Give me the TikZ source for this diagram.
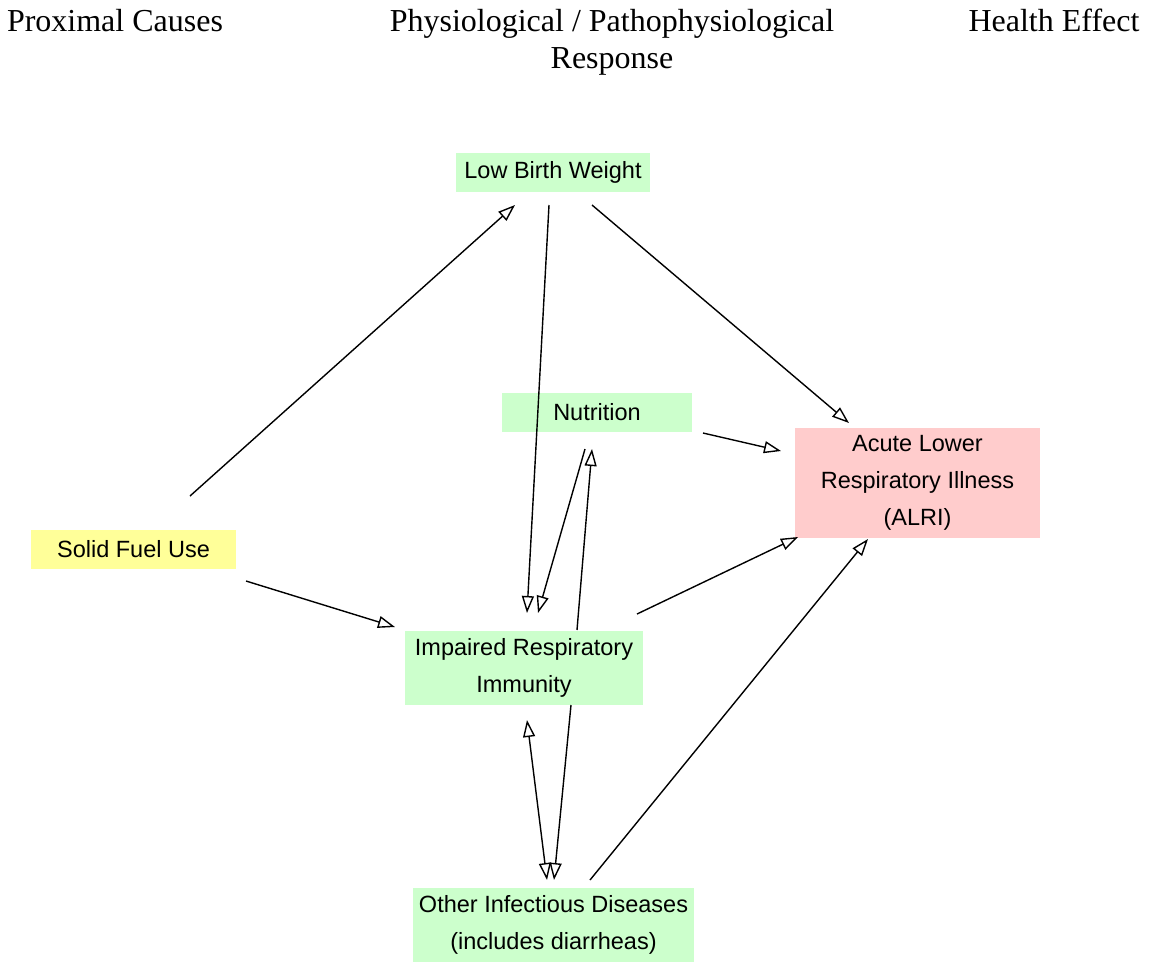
\documentclass[tikz,border=0pt]{standalone}
\usepackage{fontspec}
\setmainfont{Liberation Serif}
\setsansfont{Liberation Sans}
\usepackage{tikz}
\usetikzlibrary{positioning,arrows.meta}
\definecolor{boxgreen}{HTML}{CCFFCC}
\definecolor{boxpink}{HTML}{FFCCCC}
\definecolor{boxyellow}{HTML}{FFFF99}

\begin{document}
\begin{tikzpicture}[
  x=1pt, y=-1pt,
  box/.style={inner sep=0pt, align=center, font=\sffamily\fontsize{23.5}{37}\selectfont},
  head/.style={inner sep=0pt, anchor=base, align=center, font=\rmfamily\fontsize{32}{37}\selectfont},
  arr/.style={-{Triangle[open, length=17pt, width=12pt]}, line width=1.4pt},
  arrboth/.style={{Triangle[open, length=17pt, width=12pt]}-{Triangle[open, length=17pt, width=12pt]}, line width=1.4pt}
]
\useasboundingbox (0,0) rectangle (1153,962);
% column titles
\node[head] (hcause) at (115,31) {Proximal Causes};
\node[head] (hresp) at (612,68) {Physiological / Pathophysiological\\Response};
\node[head] (heff) at (1054,31) {Health Effect};
% boxes
\node[box, fill=boxgreen, minimum width=194pt, minimum height=39pt] (lbw) at (553,172.5) {Low Birth Weight};
\node[box, fill=boxgreen, minimum width=190pt, minimum height=39pt] (nut) at (597,412.5) {Nutrition};
\node[box, fill=boxpink, minimum width=245pt, minimum height=110pt] (alri) at (917.5,483) {Acute Lower\\Respiratory Illness\\(ALRI)};
\node[box, fill=boxyellow, minimum width=205pt, minimum height=39pt] (sfu) at (133.5,549.5) {Solid Fuel Use};
\node[box, fill=boxgreen, minimum width=238pt, minimum height=74pt] (iri) at (524,668) {Impaired Respiratory\\Immunity};
\node[box, fill=boxgreen, minimum width=281pt, minimum height=74pt] (oid) at (553.5,925) {Other Infectious Diseases\\(includes diarrheas)};
% connectors
\draw[arr] ([shift={(56.5,-53.5)}]sfu.center) -- ([shift={(-38,32.5)}]lbw.center);
\draw[arr] ([shift={(112.5,31.5)}]sfu.center) -- ([shift={(-129,-41)}]iri.center);
\draw[arr] ([shift={(-4,32.5)}]lbw.center) -- ([shift={(3,-55)}]iri.center);
\draw[arr] ([shift={(-12,36.5)}]nut.center) -- ([shift={(14,-55)}]iri.center);
\draw[arr] ([shift={(53,-38)}]iri.center) -- ([shift={(-5,36.5)}]nut.center);
\draw[arr] ([shift={(106,20.5)}]nut.center) -- ([shift={(-136.5,-32)}]alri.center);
\draw[arr] ([shift={(39,32.5)}]lbw.center) -- ([shift={(-68.5,-60)}]alri.center);
\draw[arr] ([shift={(113,-54)}]iri.center) -- ([shift={(-119.5,54)}]alri.center);
\draw[arr] ([shift={(36.5,-45)}]oid.center) -- ([shift={(-49.5,56)}]alri.center);
\draw[arrboth] ([shift={(3,52)}]iri.center) -- ([shift={(-6.5,-45)}]oid.center);
\draw[arr] ([shift={(47,37)}]iri.center) -- ([shift={(0.5,-45)}]oid.center);
\end{tikzpicture}
\end{document}
